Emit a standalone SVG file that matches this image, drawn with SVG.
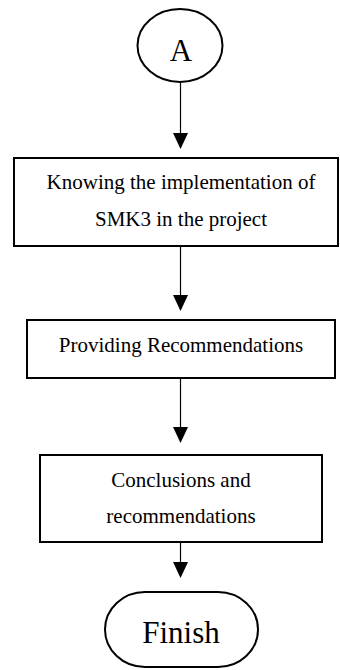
<svg xmlns="http://www.w3.org/2000/svg" width="340" height="670" viewBox="0 0 340 670">
  <style>
    .shape { fill: #ffffff; stroke: #000000; stroke-width: 2; }
    .label { font-family: "Liberation Serif", "Times New Roman", serif; fill: #000000; text-anchor: middle; }
    .step { font-size: 21px; }
    .term { font-size: 31px; }
    .flow { stroke: #000000; stroke-width: 1.2; fill: none; marker-end: url(#arrow); }
  </style>
  <defs>
    <marker id="arrow" viewBox="0 0 16 15" refX="14" refY="7.5" markerWidth="16" markerHeight="15" markerUnits="userSpaceOnUse" orient="auto">
      <path d="M0,0 L16,7.5 L0,15 z" fill="#000000"/>
    </marker>
  </defs>
  <rect width="340" height="670" fill="#ffffff"/>

  <!-- connectors -->
  <g id="connectors">
    <line class="flow" x1="180.5" y1="82" x2="180.5" y2="147"/>
    <line class="flow" x1="180.5" y1="246" x2="180.5" y2="309"/>
    <line class="flow" x1="180.5" y1="378" x2="180.5" y2="441"/>
    <line class="flow" x1="180.5" y1="542" x2="180.5" y2="576"/>
  </g>

  <!-- off-page connector A -->
  <g id="node-a">
    <ellipse class="shape" cx="180" cy="45.5" rx="42.5" ry="36.5"/>
    <text class="label term" x="181" y="61">A</text>
  </g>

  <g id="node-knowing">
    <rect class="shape" x="14" y="158" width="324" height="88"/>
    <text class="label step" x="181" y="189">Knowing the implementation of</text>
    <text class="label step" x="181" y="226">SMK3 in the project</text>
  </g>

  <g id="node-providing">
    <rect class="shape" x="27" y="320" width="308" height="58"/>
    <text class="label step" x="181" y="352">Providing Recommendations</text>
  </g>

  <g id="node-conclusions">
    <rect class="shape" x="40" y="455" width="282" height="87"/>
    <text class="label step" x="181" y="487">Conclusions and</text>
    <text class="label step" x="181" y="523">recommendations</text>
  </g>

  <!-- terminator -->
  <g id="node-finish">
    <rect class="shape" x="105" y="592" width="153" height="75" rx="40" ry="37.5"/>
    <text class="label term" x="181" y="643">Finish</text>
  </g>
</svg>
